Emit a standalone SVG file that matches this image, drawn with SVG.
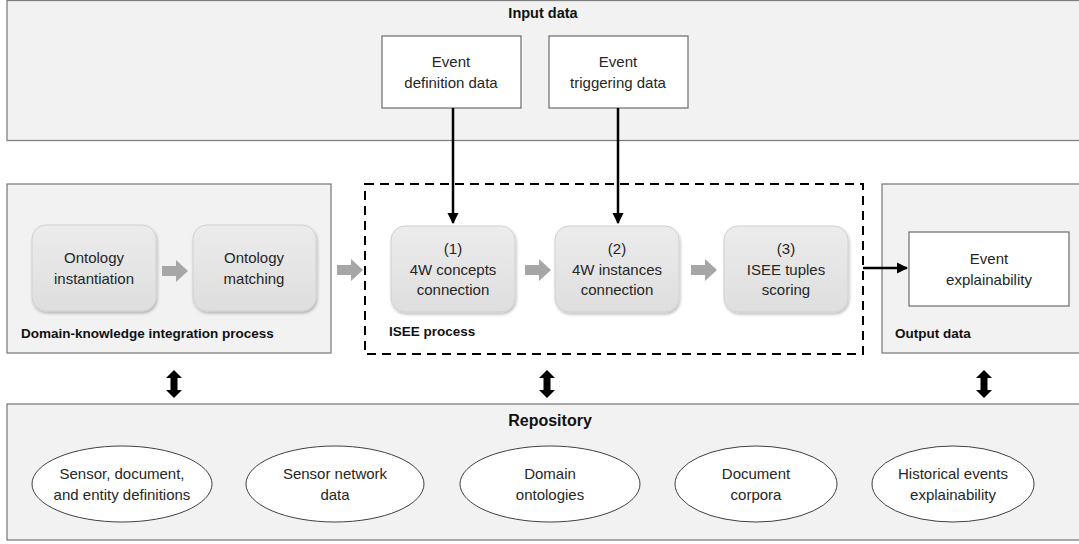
<svg xmlns="http://www.w3.org/2000/svg" width="1079" height="544" viewBox="0 0 1079 544">
<defs>
<style>
.panel{fill:#f2f2f2;stroke:#7f7f7f;stroke-width:1.3}
.wbox{fill:#ffffff;stroke:#6b6b6b;stroke-width:1.2}
.rbox{fill:url(#g);stroke:#d0d0d0;stroke-width:1}
.ell{fill:#ffffff;stroke:#404040;stroke-width:1}
.t{font-family:"Liberation Sans",Arial,sans-serif;font-size:15px;fill:#262626;text-anchor:middle}
.b{font-family:"Liberation Sans",Arial,sans-serif;font-size:13.5px;font-weight:bold;fill:#111}
.garrow{fill:#a6a6a6}
.conn{stroke:#000;stroke-width:2.5;fill:none}
</style>
<linearGradient id="g" x1="0" y1="0" x2="0" y2="1">
<stop offset="0" stop-color="#ececec"/>
<stop offset="1" stop-color="#dedede"/>
</linearGradient>
<filter id="sh" x="-10%" y="-10%" width="130%" height="130%">
<feDropShadow dx="1" dy="2" stdDeviation="1.5" flood-color="#000" flood-opacity="0.25"/>
</filter>
<marker id="ah" viewBox="0 0 10 10" refX="9" refY="5" markerWidth="4.6" markerHeight="4.6" orient="auto" markerUnits="strokeWidth">
<path d="M0,0 L10,5 L0,10 z" fill="#000"/>
</marker>
<path id="ga" d="M0,-5 L14,-5 L14,-11 L26,0 L14,11 L14,5 L0,5 z"/>
<path id="da" d="M0,-14 L8,-6 L3.5,-6 L3.5,6 L8,6 L0,14 L-8,6 L-3.5,6 L-3.5,-6 L-8,-6 z"/>
</defs>

<g id="input-panel">
<rect class="panel" x="7" y="0.5" width="1080" height="140"/>
<text class="b" x="543" y="18" text-anchor="middle" style="font-size:14.5px">Input data</text>
</g>
<g id="event-definition-data">
<rect class="wbox" x="382" y="36" width="139" height="72"/>
<text class="t" x="451" y="67">Event</text>
<text class="t" x="451" y="88">definition data</text>
</g>
<g id="event-triggering-data">
<rect class="wbox" x="549" y="36" width="139" height="72"/>
<text class="t" x="618" y="67">Event</text>
<text class="t" x="618" y="88">triggering data</text>
</g>

<g id="domain-panel">
<rect class="panel" x="7" y="184" width="324" height="169"/>
<text class="b" x="21" y="338">Domain-knowledge integration process</text>
</g>
<g id="ontology-instantiation">
<rect class="rbox" filter="url(#sh)" x="32" y="225" width="124" height="86" rx="14"/>
<text class="t" x="94" y="263">Ontology</text>
<text class="t" x="94" y="284">instantiation</text>
</g>
<g id="ontology-matching">
<rect class="rbox" filter="url(#sh)" x="193" y="225" width="123" height="86" rx="14"/>
<text class="t" x="254" y="263">Ontology</text>
<text class="t" x="254" y="284">matching</text>
</g>

<g id="isee-process">
<rect x="365" y="184" width="498" height="170" fill="none" stroke="#000" stroke-width="2" stroke-dasharray="9,6"/>
<text class="b" x="389" y="336">ISEE process</text>
</g>
<g id="step1">
<rect class="rbox" filter="url(#sh)" x="391" y="226" width="124" height="86" rx="14"/>
<text class="t" x="453" y="254">(1)</text>
<text class="t" x="453" y="275">4W concepts</text>
<text class="t" x="453" y="295">connection</text>
</g>
<g id="step2">
<rect class="rbox" filter="url(#sh)" x="555" y="226" width="124" height="86" rx="14"/>
<text class="t" x="617" y="254">(2)</text>
<text class="t" x="617" y="275">4W instances</text>
<text class="t" x="617" y="295">connection</text>
</g>
<g id="step3">
<rect class="rbox" filter="url(#sh)" x="724" y="226" width="124" height="86" rx="14"/>
<text class="t" x="786" y="254">(3)</text>
<text class="t" x="786" y="275">ISEE tuples</text>
<text class="t" x="786" y="295">scoring</text>
</g>

<g id="output-panel">
<rect class="panel" x="882" y="184" width="205" height="169"/>
<text class="b" x="895" y="338">Output data</text>
</g>
<g id="event-explainability">
<rect class="wbox" x="909" y="232" width="160" height="74"/>
<text class="t" x="989" y="264">Event</text>
<text class="t" x="989" y="285">explainability</text>
</g>

<g id="repository-panel">
<rect class="panel" x="7" y="404" width="1080" height="136"/>
<text class="b" x="550" y="426" text-anchor="middle" style="font-size:16px">Repository</text>
</g>
<g id="repo-definitions">
<ellipse class="ell" cx="122" cy="484" rx="90" ry="38"/>
<text class="t" x="122" y="479">Sensor, document,</text>
<text class="t" x="122" y="500">and entity definitions</text>
</g>
<g id="repo-sensor-network">
<ellipse class="ell" cx="335" cy="484" rx="89" ry="38"/>
<text class="t" x="335" y="479">Sensor network</text>
<text class="t" x="335" y="500">data</text>
</g>
<g id="repo-domain-ontologies">
<ellipse class="ell" cx="550" cy="484" rx="90" ry="38"/>
<text class="t" x="550" y="479">Domain</text>
<text class="t" x="550" y="500">ontologies</text>
</g>
<g id="repo-document-corpora">
<ellipse class="ell" cx="756" cy="484" rx="81" ry="38"/>
<text class="t" x="756" y="479">Document</text>
<text class="t" x="756" y="500">corpora</text>
</g>
<g id="repo-historical">
<ellipse class="ell" cx="953" cy="484" rx="81" ry="38"/>
<text class="t" x="953" y="479">Historical events</text>
<text class="t" x="953" y="500">explainability</text>
</g>

<g id="connectors">
<line class="conn" x1="453" y1="108" x2="453" y2="223" marker-end="url(#ah)"/>
<line class="conn" x1="618" y1="108" x2="618" y2="223" marker-end="url(#ah)"/>
<line class="conn" x1="863" y1="268" x2="907" y2="268" marker-end="url(#ah)"/>
<use href="#ga" class="garrow" x="162" y="271"/>
<use href="#ga" class="garrow" x="337" y="270"/>
<use href="#ga" class="garrow" x="525" y="270"/>
<use href="#ga" class="garrow" x="691" y="270"/>
<use href="#da" x="174" y="384"/>
<use href="#da" x="547" y="384"/>
<use href="#da" x="984" y="384"/>
</g>
</svg>
